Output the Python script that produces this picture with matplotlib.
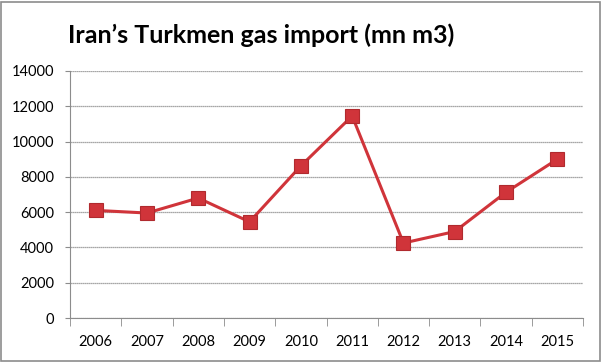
import matplotlib
matplotlib.use('Agg')
import matplotlib.pyplot as plt
from matplotlib.patches import Rectangle
from matplotlib.ticker import MultipleLocator

years = ['2006', '2007', '2008', '2009', '2010', '2011', '2012', '2013', '2014', '2015']
imports = [6100, 5950, 6800, 5450, 8620, 11450, 4250, 4900, 7130, 9000]
y_ticks = [0, 2000, 4000, 6000, 8000, 10000, 12000, 14000]

plt.rcParams['font.family'] = ['Lato', 'DejaVu Sans']

W, H = 602, 362
fig = plt.figure(figsize=(W / 100, H / 100), dpi=100)
fig.patch.set_facecolor('white')

# outer frame like the excel chart area
fig.patches.append(Rectangle((0.5 / W, 1.5 / H), (W - 3) / W, (H - 3) / H,
                             transform=fig.transFigure, fill=False,
                             edgecolor='#8c8c8c', linewidth=1.2))

# plot area: x 70..583 px, y 71..318 px (from top)
ax = fig.add_axes([70 / W, (H - 318) / H, (583 - 70) / W, (318 - 71) / H])
x = list(range(len(years)))
ax.plot(x, imports, color='#d0343a', linewidth=2.2, marker='s', markersize=9.5,
        markerfacecolor='#d0343a', markeredgecolor='#b02a2e', markeredgewidth=0.8,
        zorder=3)

ax.set_xlim(-0.5, len(years) - 0.5)
ax.set_ylim(0, 14000)
ax.set_yticks(y_ticks)
ax.set_yticklabels([str(v) for v in y_ticks], fontsize=10.5)
ax.set_xticks(x)
ax.set_xticklabels(years, fontsize=10.5)
ax.tick_params(axis='x', which='major', length=0, pad=12)
ax.xaxis.set_minor_locator(MultipleLocator(1, offset=0.5))
ax.tick_params(axis='x', which='minor', length=5.5, color='#8c8c8c', direction='out')
ax.tick_params(axis='y', length=3.5, color='#8c8c8c', pad=8)

ax.grid(axis='y', color='#8a8a8a', linewidth=0.9, linestyle=(0, (1, 0.6)))
ax.set_axisbelow(True)
for s in ['top', 'right']:
    ax.spines[s].set_visible(False)
ax.spines['left'].set_color('#8c8c8c')
ax.spines['bottom'].set_color('#8c8c8c')

fig.text(261 / W, (H - 35) / H, 'Iran\u2019s Turkmen gas import (mn m3)',
         ha='center', va='center', fontsize=18, fontweight='bold')

fig.savefig('out.png', dpi=100)
